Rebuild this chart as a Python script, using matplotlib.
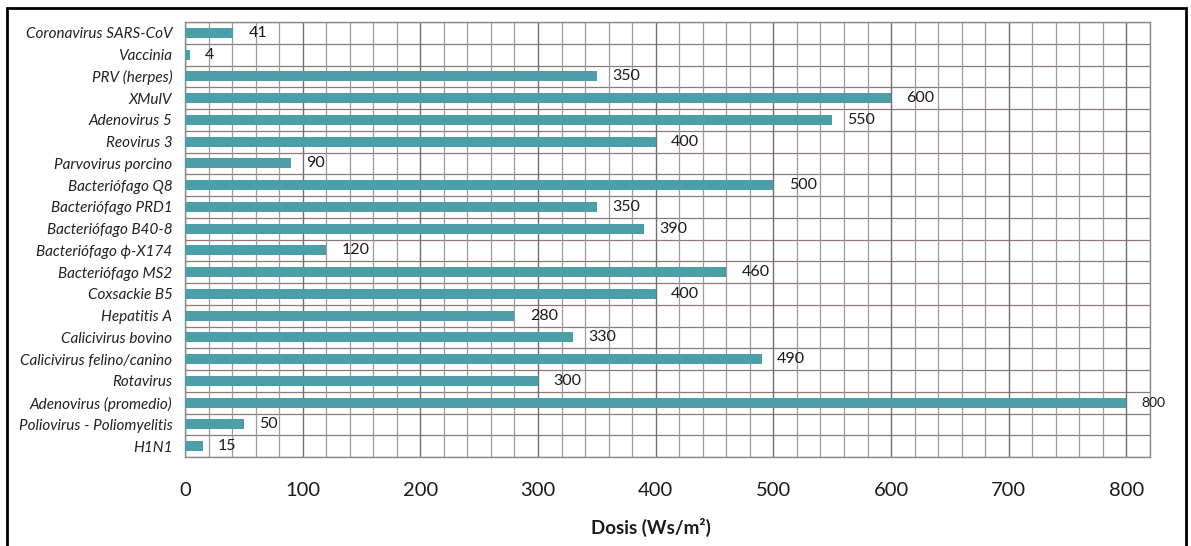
import matplotlib
matplotlib.use("Agg")
import matplotlib.pyplot as plt
from matplotlib.patches import Rectangle
from matplotlib.ticker import MultipleLocator
import numpy as np

categories = [
    "Coronavirus SARS-CoV", "Vaccinia", "PRV (herpes)", "XMulV", "Adenovirus 5",
    "Reovirus 3", "Parvovirus porcino", "Bacteriófago Q8", "Bacteriófago PRD1",
    "Bacteriófago B40-8", "Bacteriófago ϕ-X174", "Bacteriófago MS2", "Coxsackie B5",
    "Hepatitis A", "Calicivirus bovino", "Calicivirus felino/canino", "Rotavirus",
    "Adenovirus (promedio)", "Poliovirus - Poliomyelitis", "H1N1",
]
values = [41, 4, 350, 600, 550, 400, 90, 500, 350, 390, 120, 460, 400, 280, 330, 490, 300, 800, 50, 15]
xticks = [0, 100, 200, 300, 400, 500, 600, 700, 800]

plt.rcParams['font.family'] = ['Lato', 'DejaVu Sans']

fig = plt.figure(figsize=(11.91, 5.46), dpi=100)
ax = fig.add_axes([0.1553, 0.163, 0.8103, 0.7967])

n = len(categories)
y = np.arange(n)
ax.barh(y, values, height=0.45, color="#4c9fa8", zorder=3)

ax.set_xlim(0, 820)
ax.set_ylim(n - 0.5, -0.5)

# grid
ax.xaxis.set_major_locator(MultipleLocator(100))
ax.xaxis.set_minor_locator(MultipleLocator(20))
ax.grid(which="minor", axis="x", color="#9a9a9a", linewidth=0.9, zorder=1)
ax.grid(which="major", axis="x", color="#707070", linewidth=1.0, zorder=1)
for b in np.arange(-0.5, n, 1.0):
    ax.axhline(b, color="#8c7a7a", linewidth=0.9, zorder=1)

for s in ax.spines.values():
    s.set_color("#8a8a8a")
    s.set_linewidth(1.0)

ax.set_xticks(xticks)
ax.set_xticklabels([str(t) for t in xticks], fontsize=14.5, color="#1a1a1a")
ax.tick_params(axis="x", which="both", length=0, pad=18)
ax.set_yticks(y)
ax.set_yticklabels(categories, fontsize=11, style="italic", color="#222222")
ax.tick_params(axis="y", length=0, pad=9)

for yi, v in zip(y, values):
    fs = 10 if v == max(values) else 11.5
    ax.annotate(str(v), xy=(v, yi), xytext=(11, 0), textcoords="offset points",
                va="center", ha="left", fontsize=fs, color="#1a1a1a", zorder=4)

ax.set_xlabel("Dosis (Ws/m²)", fontsize=13.5, fontweight="bold", color="#1a1a1a")
ax.xaxis.set_label_coords(0.483, -0.14)

# figure border
fig.patches.append(Rectangle((7 / 1191, -0.05), (1186 - 7) / 1191, 1.05 - 8 / 546,
                             transform=fig.transFigure, fill=False, edgecolor="black",
                             linewidth=2.0, zorder=10))

fig.savefig("out.png", dpi=100)
